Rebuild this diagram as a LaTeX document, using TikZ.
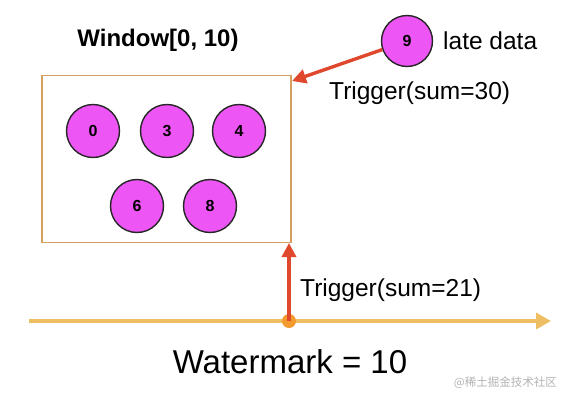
\documentclass[tikz,border=0pt]{standalone}
\usepackage{fontspec}
\setmainfont{Liberation Sans}
\newfontfamily\cjk{Noto Sans CJK SC}
\usetikzlibrary{arrows.meta}
\definecolor{ball}{HTML}{EE55F5}
\definecolor{boxc}{HTML}{D3A061}
\definecolor{tline}{HTML}{EDBE62}
\definecolor{dotc}{HTML}{F39B2F}
\definecolor{redar}{HTML}{E0482E}
\tikzset{
  ballnode/.style={circle, draw=black!85, line width=1.4pt, fill=ball, minimum size=53pt, inner sep=0pt, font=\fontsize{16}{18}\selectfont\bfseries},
  lbl/.style={inner sep=0pt, font=\fontsize{24.5}{28}\selectfont},
  redarrow/.style={draw=redar, line width=3.4pt, -{Triangle[length=14pt,width=14pt]}},
}
\begin{document}
\begin{tikzpicture}[x=1pt,y=-1pt]
\useasboundingbox (0,0) rectangle (571,402);
\node[draw=boxc, line width=1.6pt, minimum width=249pt, minimum height=167pt, inner sep=0pt] (win) at (166.5,159) {};
\node[lbl, font=\fontsize{24}{28}\selectfont\bfseries] (wt) at (158,40) {Window[0, 10)};
\node[ballnode] (b0) at (93,131) {0};
\node[ballnode] (b3) at (167,131) {3};
\node[ballnode] (b4) at (239,131) {4};
\node[ballnode] (b6) at (137,206) {6};
\node[ballnode] (b8) at (210,206) {8};
\node[ballnode, minimum size=51pt] (b9) at (407,41) {9};
\node[lbl, anchor=west] (late) at (443,41) {late data};
\node[lbl, anchor=west] (t30) at (329,93) {Trigger(sum=30)};
\coordinate (tip30) at (292,81);
\draw[redarrow] (b9) -- (tip30);
\coordinate (ts) at (29,321);
\coordinate (te) at (551,321);
\draw[draw=tline, line width=3.5pt, -{Triangle[length=15pt,width=16pt]}] (ts) -- (te);
\node[circle, fill=dotc, minimum size=14pt, inner sep=0pt] (dot) at (289,321) {};
\coordinate (tip21) at (289,243);
\draw[redarrow] (dot.center) -- (tip21);
\node[lbl, anchor=west] (t21) at (300,290) {Trigger(sum=21)};
\node[inner sep=0pt, font=\fontsize{33}{38}\selectfont] (wm) at (290,362) {Watermark = 10};
\node[inner sep=0pt, anchor=east, text=black!30, font=\cjk\fontsize{11.5}{14}\selectfont] (logo) at (557,383) {@稀土掘金技术社区};
\end{tikzpicture}
\end{document}
